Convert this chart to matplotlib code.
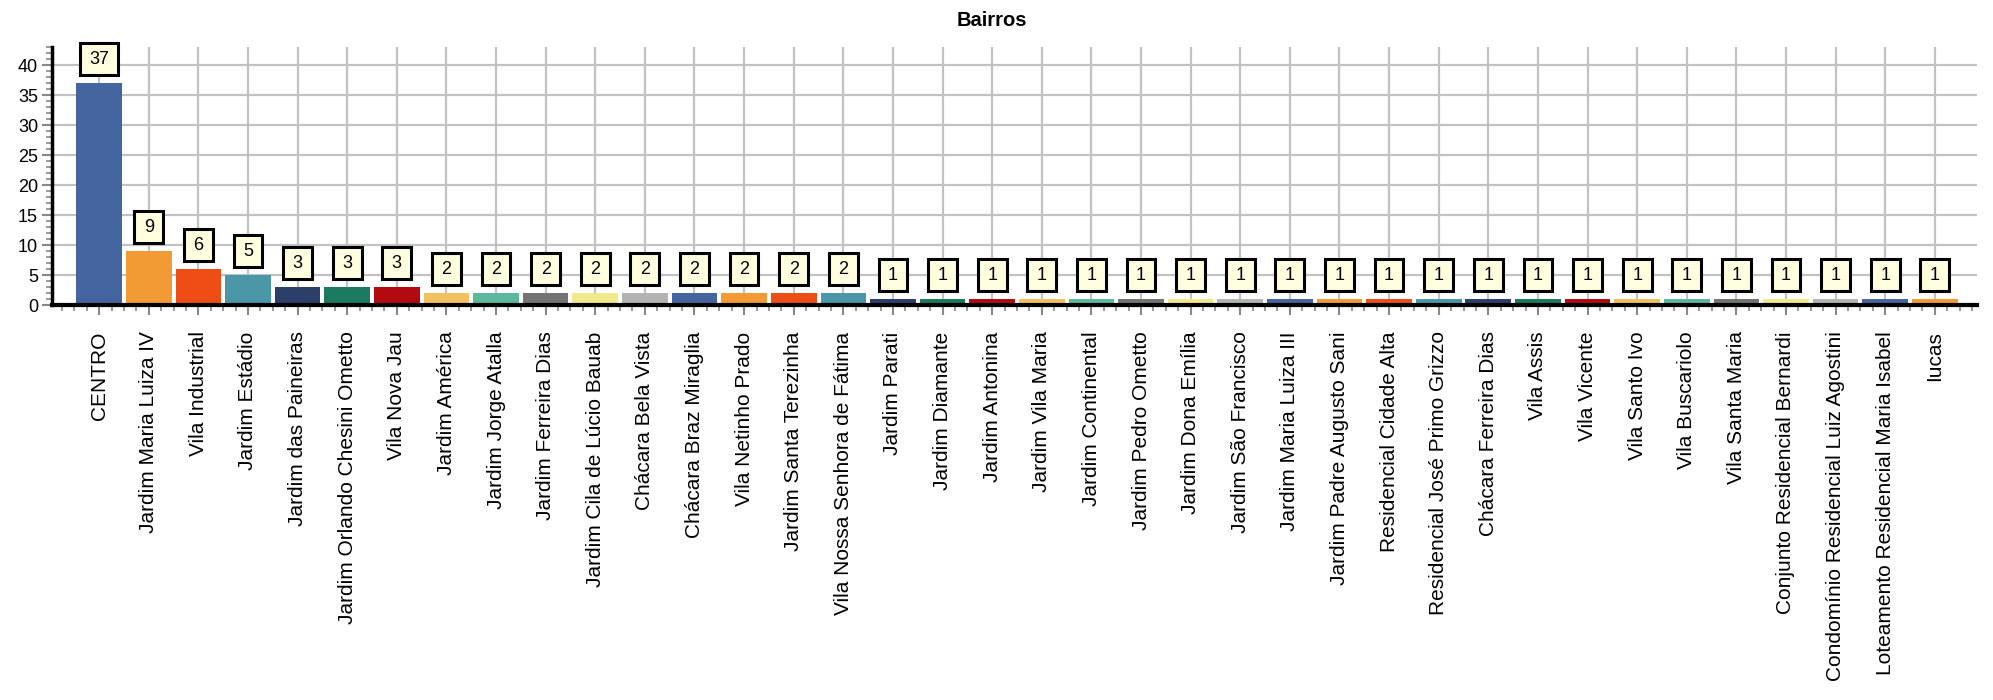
import matplotlib
matplotlib.use("Agg")
from matplotlib import pyplot as plt
from matplotlib.ticker import MultipleLocator
from matplotlib.path import Path

plt.rcParams['font.family'] = ['Liberation Sans', 'DejaVu Sans']

bairros = ["CENTRO", "Jardim Maria Luiza IV", "Vila Industrial", "Jardim Estádio",
           "Jardim das Paineiras", "Jardim Orlando Chesini Ometto", "Vila Nova Jau",
           "Jardim América", "Jardim Jorge Atalla", "Jardim Ferreira Dias",
           "Jardim Cila de Lúcio Bauab", "Chácara Bela Vista", "Chácara Braz Miraglia",
           "Vila Netinho Prado", "Jardim Santa Terezinha", "Vila Nossa Senhora de Fátima",
           "Jardim Parati", "Jardim Diamante", "Jardim Antonina", "Jardim Vila Maria",
           "Jardim Continental", "Jardim Pedro Ometto", "Jardim Dona Emília",
           "Jardim São Francisco", "Jardim Maria Luiza III", "Jardim Padre Augusto Sani",
           "Residencial Cidade Alta", "Residencial José Primo Grizzo",
           "Chácara Ferreira Dias", "Vila Assis", "Vila Vicente", "Vila Santo Ivo",
           "Vila Buscariolo", "Vila Santa Maria", "Conjunto Residencial Bernardi",
           "Condomínio Residencial Luiz Agostini", "Loteamento Residencial Maria Isabel",
           "Iucas"]
contagem = [37, 9, 6, 5, 3, 3, 3, 2, 2, 2, 2, 2, 2, 2, 2, 2,
            1, 1, 1, 1, 1, 1, 1, 1, 1, 1, 1, 1, 1, 1, 1, 1, 1, 1, 1, 1, 1, 1]
paleta = ["#4565a0", "#f29b35", "#ef4d16", "#4b97a8", "#2b3f69", "#1b7a5f",
          "#b30a12", "#f3c05e", "#5cb89c", "#737373", "#f2e88c", "#b3b3b3"]

cores = [paleta[i % len(paleta)] for i in range(len(bairros))]
x = list(range(len(bairros)))


# caixa com padding diferente na horizontal e na vertical
def caixa(x0, y0, w, h, ms):
    px = 0.52 * ms
    py = 0.42 * ms
    x0, y0 = x0 - px, y0 - py
    x1, y1 = x0 + w + 2 * px, y0 + h + 2 * py
    return Path([(x0, y0), (x1, y0), (x1, y1), (x0, y1), (x0, y0)], closed=True)


fig = plt.figure(figsize=(19.93, 7), dpi=100)
ax = fig.add_axes([52/1993, 1-305/700, (1977-52)/1993, (305-47)/700])

ax.bar(x, contagem, width=0.92, color=cores, zorder=2)

for i, v in enumerate(contagem):
    ax.annotate(str(v), (i, v), xytext=(0, 15.5), textcoords='offset pixels',
                ha='center', va='bottom', fontsize=13, zorder=4,
                bbox=dict(boxstyle=caixa, fc='#ffffe0', ec='black', lw=2.2))

ax.set_xlim(-0.95, 37.85)
ax.set_ylim(0, 43)
ax.set_xticks(x)
ax.set_xticklabels(bairros, rotation=90, fontsize=15)
ax.xaxis.set_minor_locator(MultipleLocator(0.25))
ax.yaxis.set_major_locator(MultipleLocator(5))
ax.yaxis.set_minor_locator(MultipleLocator(1))
ax.tick_params(axis='both', which='major', color='#888888', width=1.5, length=7)
ax.tick_params(axis='both', which='minor', color='#888888', width=1.2, length=4)
ax.tick_params(axis='x', which='major', pad=12)
ax.tick_params(axis='y', which='major', labelsize=13, pad=3)

ax.grid(True, which='major', color='#c2c2c2', linewidth=1.6)
ax.set_axisbelow(True)
for s in ['top', 'right']:
    ax.spines[s].set_visible(False)
ax.spines['left'].set_linewidth(2.5)
ax.spines['bottom'].set_linewidth(3)

fig.text(992/1993, 1-21/700, "Bairros", ha='center', va='center',
         fontsize=14.5, fontweight='bold')

plt.savefig("out.png", dpi=100)
